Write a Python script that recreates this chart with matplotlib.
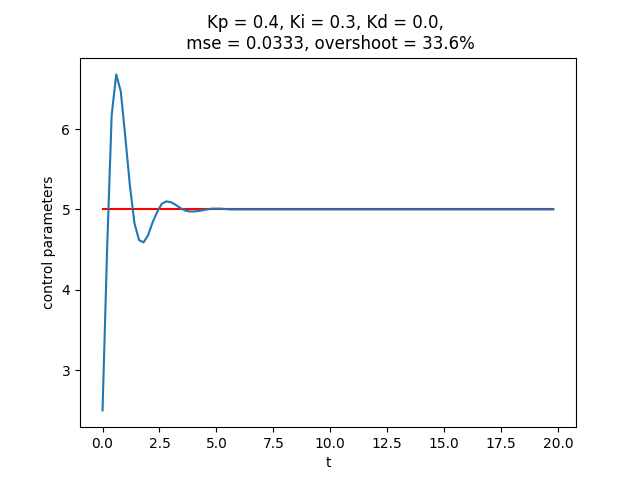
import numpy as np
import matplotlib
matplotlib.use("Agg")
import matplotlib.pyplot as plt

dt = 0.2
response_start = [2.50, 4.50, 6.17, 6.68, 6.47, 5.90, 5.30, 4.83, 4.62, 4.59,
                  4.68, 4.84, 4.97, 5.07, 5.10, 5.09, 5.06, 5.02, 4.99, 4.975,
                  4.975, 4.98, 4.99, 5.00, 5.01, 5.01, 5.01, 5.005]
n_points = 100
setpoint_value = 5.0

t = np.arange(n_points) * dt
response = np.array(response_start + [setpoint_value] * (n_points - len(response_start)))
setpoint = np.full(n_points, setpoint_value)

fig, ax = plt.subplots(figsize=(6.4, 4.8), dpi=100)
ax.plot(t, setpoint, color='red')
ax.plot(t, response, color='C0')
ax.set_title("Kp = 0.4, Ki = 0.3, Kd = 0.0, \n mse = 0.0333, overshoot = 33.6%")
ax.set_xlabel("t")
ax.set_ylabel("control parameters")
fig.savefig("out.png")
